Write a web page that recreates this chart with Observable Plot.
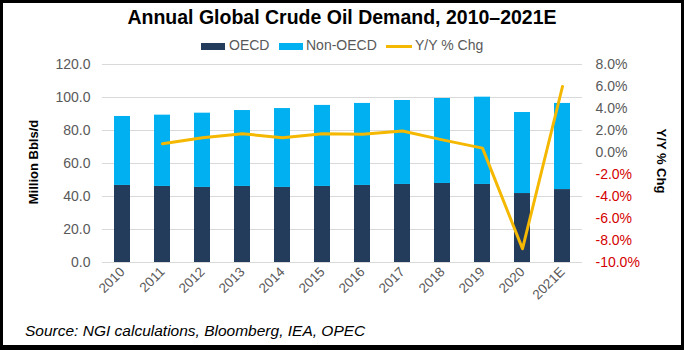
<!DOCTYPE html>
<html><head><meta charset="utf-8">
<script src="https://cdn.jsdelivr.net/npm/d3@7"></script>
<script src="https://cdn.jsdelivr.net/npm/@observablehq/plot@0.6"></script>
<style>
body{margin:0;background:#fff;}
#frame{position:relative;width:684px;height:350px;background:#000;overflow:hidden;font-family:"Liberation Sans",Arial,sans-serif;}
#inner{position:absolute;left:3px;top:3px;width:678px;height:342px;background:#fff;}
.abs{position:absolute;}
#title{left:0;width:684px;top:6px;text-align:center;font-size:19.5px;font-weight:bold;color:#000;}
#legend{left:0;width:684px;top:37px;font-size:14px;color:#595959;}
.sw{position:absolute;top:6px;height:7px;}
.lt{position:absolute;top:0;}
.ytitle{font-size:13px;font-weight:bold;color:#000;white-space:nowrap;}
#source{left:25px;top:322px;font-size:15.5px;font-style:italic;color:#000;}
.plot{position:absolute;left:0;top:50px;}
</style>
</head><body>
<div id="frame">
  <div id="inner"></div>
  <div id="title" class="abs">Annual Global Crude Oil Demand, 2010–2021E</div>
  <div id="legend" class="abs">
    <div class="sw" style="left:201px;width:24px;background:#243C5C"></div><div class="lt" style="left:229px">OECD</div>
    <div class="sw" style="left:279px;width:24px;background:#00B0F0"></div><div class="lt" style="left:306px">Non-OECD</div>
    <div class="sw" style="left:386px;width:26px;height:3px;top:8px;background:#F5B800"></div><div class="lt" style="left:415px">Y/Y % Chg</div>
  </div>
  <div id="p1" class="plot"></div>
  <div id="p2" class="plot"></div>
  <div class="abs ytitle" style="left:33px;top:162px;transform:translate(-50%,-50%) rotate(-90deg);">Million Bbls/d</div>
  <div class="abs ytitle" style="left:661px;top:161px;transform:translate(-50%,-50%) rotate(90deg);">Y/Y % Chg</div>
  <div id="source" class="abs">Source: NGI calculations, Bloomberg, IEA, OPEC</div>
</div>
<script>
const years = ["2010","2011","2012","2013","2014","2015","2016","2017","2018","2019","2020","2021E"];
const oecd = [46.7,46.1,45.5,46.1,45.5,46.1,46.7,47.3,47.9,47.3,41.8,44.2];
const nonOecd = [41.8,43.2,45.0,46.0,47.8,49.1,49.7,50.9,51.5,52.9,49.1,52.2];
const yoyChg = [null,0.8,1.35,1.7,1.35,1.7,1.65,1.95,1.15,0.4,-8.75,6.0];
const leftTicks = [0,20,40,60,80,100,120];
const rightTicks = [-10,-8,-6,-4,-2,0,2,4,6,8];

const seriesNames = ["OECD","Non-OECD"];
const seriesColors = ["#243C5C","#00B0F0"];
const lineColor = "#F5B800";

const rows = [];
years.forEach((y,i)=>{
  rows.push({year:y, series:"OECD", value:oecd[i]});
  rows.push({year:y, series:"Non-OECD", value:nonOecd[i]});
});
const lineRows = years.map((y,i)=>({year:y, value:yoyChg[i]})).filter(d=>d.value!=null);

const common = {
  width:684, height:265, marginLeft:102, marginRight:102, marginTop:14, marginBottom:53,
  style:{fontFamily:"'Liberation Sans',Arial,sans-serif", fontSize:"14px", color:"#595959", background:"transparent", overflow:"visible"}
};

const p1 = Plot.plot({
  ...common,
  x:{type:"band", domain:years, paddingInner:0.6, paddingOuter:0.3, label:null},
  y:{domain:[0,120], label:null},
  color:{domain:seriesNames, range:seriesColors},
  marks:[
    Plot.gridY({ticks:leftTicks, stroke:"#D9D9D9", strokeOpacity:1}),
    Plot.barY(rows,{x:"year", y:"value", fill:"series"}),
    Plot.axisY({ticks:leftTicks, tickFormat:d=>d.toFixed(1), tickSize:0, tickPadding:12, label:null, fill:"#595959", fontSize:14}),
    Plot.axisX({tickRotate:-45, tickSize:0, tickPadding:7, label:null, fill:"#595959", fontSize:13.5})
  ]
});
document.getElementById("p1").appendChild(p1);

const p2 = Plot.plot({
  ...common,
  x:{type:"point", domain:years, padding:0.5, axis:null},
  y:{domain:[-10,8], label:null},
  marks:[
    Plot.lineY(lineRows,{x:"year", y:"value", stroke:lineColor, strokeWidth:3, curve:"linear", strokeLinejoin:"round"}),
    Plot.axisY({anchor:"right", ticks:rightTicks.filter(t=>t>=0), tickFormat:d=>d.toFixed(1)+"%", tickSize:0, tickPadding:13, label:null, fill:"#595959", fontSize:14}),
    Plot.axisY({anchor:"right", ticks:rightTicks.filter(t=>t<0), tickFormat:d=>d.toFixed(1)+"%", tickSize:0, tickPadding:13, label:null, fill:"#D40000", fontSize:14})
  ]
});
document.getElementById("p2").appendChild(p2);
</script>
</body></html>
